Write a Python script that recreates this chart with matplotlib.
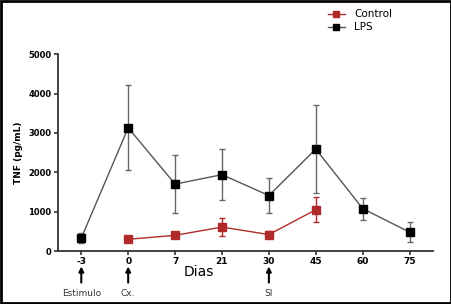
import matplotlib
matplotlib.use("Agg")
import matplotlib.pyplot as plt
from matplotlib.patches import Rectangle
from matplotlib.lines import Line2D

days = ["-3", "0", "7", "21", "30", "45", "60", "75"]
lps_mean = [330, 3130, 1700, 1940, 1410, 2590, 1080, 480]
lps_err = [120, 1075, 740, 655, 445, 1120, 280, 250]
ctrl_days = ["0", "7", "21", "30", "45"]
ctrl_mean = [300, 400, 610, 420, 1050]
ctrl_err = [60, 70, 235, 95, 320]
yticks = [0, 1000, 2000, 3000, 4000, 5000]
events = [("-3", "Estimulo"), ("0", "Cx."), ("30", "SI")]

fig = plt.figure(figsize=(4.52, 3.04), dpi=100)
ax = fig.add_axes([0.128, 0.174, 0.83, 0.648])

xpos = {d: i for i, d in enumerate(days)}
lx = [xpos[d] for d in days]
cx = [xpos[d] for d in ctrl_days]

red = "#b02a2a"
gray = "#555555"
ax.errorbar(lx, lps_mean, yerr=lps_err, color=gray, ecolor="#666666",
            elinewidth=1.0, capsize=2.5, capthick=1.0, lw=1.0,
            marker="s", ms=5.5, mfc="black", mec="black", zorder=3)
ax.errorbar(cx, ctrl_mean, yerr=ctrl_err, color=red, ecolor=red,
            elinewidth=1.0, capsize=2.5, capthick=1.0, lw=1.0,
            marker="s", ms=5.5, mfc=red, mec=red, zorder=3)

ax.set_xlim(-0.5, 7.5)
ax.set_ylim(0, 5000)
ax.set_yticks(yticks)
ax.set_yticklabels([str(v) for v in yticks], fontsize=6, fontweight="bold")
ax.set_xticks(range(len(days)))
ax.set_xticklabels(days, fontsize=6.5, fontweight="bold")
for s in ["top", "right"]:
    ax.spines[s].set_visible(False)
for s in ["left", "bottom"]:
    ax.spines[s].set_linewidth(1.3)
    ax.spines[s].set_color("#333333")
ax.tick_params(direction="out", length=3, width=1.2, color="#333333", pad=1.5)
ax.set_ylabel("TNF (pg/mL)", fontsize=6.5, fontweight="bold", labelpad=4)
ax.set_xlabel("Dias", fontsize=10)
ax.xaxis.set_label_coords(0.375, -0.07)

for d, txt in events:
    x = xpos[d]
    ax.annotate("", xy=(x, -0.078), xycoords=("data", "axes fraction"),
                xytext=(x, -0.16), textcoords=("data", "axes fraction"),
                arrowprops=dict(arrowstyle="-|>", color="black", lw=1.5,
                                mutation_scale=7, shrinkA=0, shrinkB=0),
                annotation_clip=False)
    ax.text(x, -0.19, txt, transform=ax.get_xaxis_transform(), ha="center",
            va="top", fontsize=6.5, color="#333333")

handles = [Line2D([], [], color=red, marker="s", ms=4, lw=1.0, mfc=red, mec=red),
           Line2D([], [], color=gray, marker="s", ms=4, lw=1.0, mfc="black", mec="black")]
fig.legend(handles, ["Control", "LPS"], loc="upper left",
           bbox_to_anchor=(0.705, 1.0), frameon=False, fontsize=7.5,
           handlelength=1.6, labelspacing=0.3, handletextpad=0.9)

fig.patches.append(Rectangle((0.002, 0.004), 0.995, 0.992, transform=fig.transFigure,
                             fill=False, edgecolor="black", lw=2))
fig.savefig("out.png", dpi=100)
